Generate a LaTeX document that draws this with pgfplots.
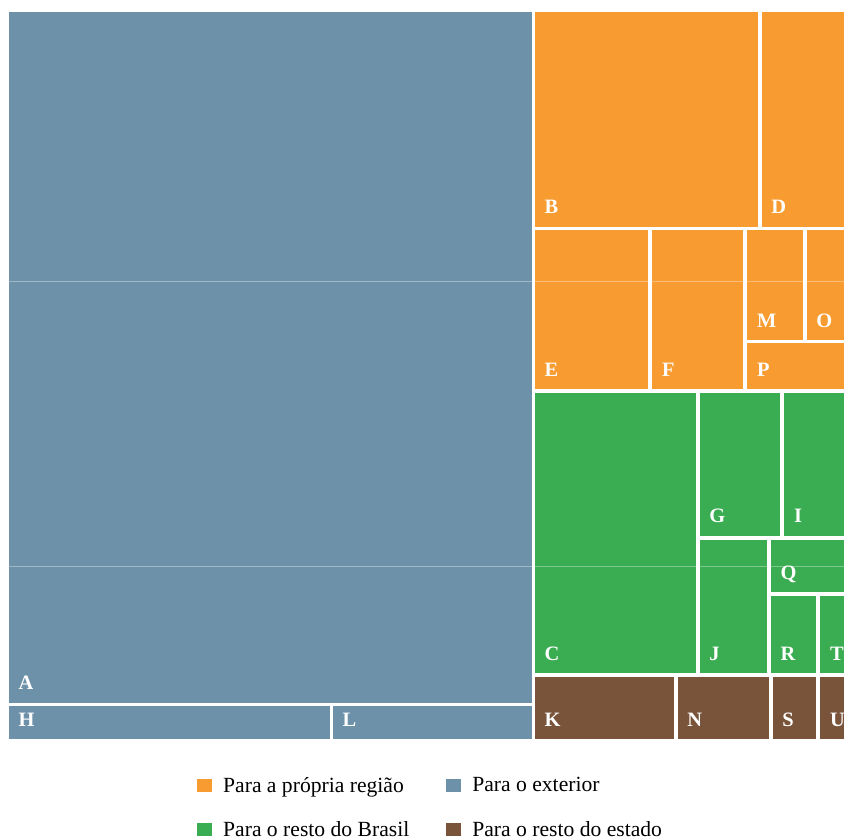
\documentclass[border=0pt]{standalone}
\usepackage{pgfplots}
\pgfplotsset{compat=1.18}
\usepackage{fontspec}
\setmainfont{Liberation Serif}

\definecolor{regiao}{HTML}{F89B30}
\definecolor{exterior}{HTML}{6E91AA}
\definecolor{brasil}{HTML}{3AAD52}
\definecolor{estado}{HTML}{79543B}

\newcommand{\lab}{\fontsize{20.5}{24}\selectfont\bfseries}
% one tile: colour, x0, y0, x1, y1 (pixels, y downwards), label
\newcommand{\tile}[6]{%
  \addplot[fill=#1, draw=none, forget plot] coordinates {(#2,#3) (#4,#3) (#4,#5) (#2,#5)};
  \node[anchor=base west, inner sep=0pt, text=white, font=\lab,
        xshift=9.5bp, yshift=13bp] at (axis cs:#2,#5) {#6};}

\begin{document}
\begin{tikzpicture}
\begin{axis}[
    scale only axis,
    width=844bp, height=839bp,
    xmin=0, xmax=844, ymin=0, ymax=839,
    y dir=reverse,
    hide axis,
    clip mode=individual,
    legend columns=2,
    legend cell align=left,
    legend image code/.code={\fill[#1, draw=none] (0bp,-7bp) rectangle (15bp,6.5bp);},
    legend style={at={(axis cs:197,775)}, anchor=north west, draw=none, fill=none,
      inner sep=0pt, row sep=23.5bp,
      font=\fontsize{21.7}{25}\selectfont,
      /tikz/every odd column/.append style={column sep=9bp},
      /tikz/every even column/.append style={column sep=35bp}},
  ]
  \addlegendimage{fill=regiao}\addlegendentry{Para a própria região}
  \addlegendimage{fill=exterior}\addlegendentry{Para o exterior}
  \addlegendimage{fill=brasil}\addlegendentry{Para o resto do Brasil}
  \addlegendimage{fill=estado}\addlegendentry{Para o resto do estado}

  % para o exterior
  \tile{exterior}{9}{12}{531.5}{702.7}{A}
  \tile{exterior}{9}{706}{329.5}{739.3}{H}
  \tile{exterior}{333}{706}{531.5}{739.3}{L}
  % para a propria regiao
  \tile{regiao}{535}{12}{757.7}{226.7}{B}
  \tile{regiao}{761.7}{12}{850}{226.7}{D}
  \tile{regiao}{535}{230}{648.3}{389.3}{E}
  \tile{regiao}{652.3}{230}{743.3}{389.3}{F}
  \tile{regiao}{747.3}{230}{803.3}{340}{M}
  \tile{regiao}{806.7}{230}{850}{340}{O}
  \tile{regiao}{747.3}{343.3}{850}{389.3}{P}
  % para o resto do Brasil
  \tile{brasil}{535}{393.3}{695.7}{673.3}{C}
  \tile{brasil}{699.7}{393.3}{780.3}{535.7}{G}
  \tile{brasil}{784.3}{393.3}{850}{535.7}{I}
  \tile{brasil}{699.7}{539.7}{767.3}{673.3}{J}
  \tile{brasil}{771}{539.7}{850}{592.3}{Q}
  \tile{brasil}{771}{596.3}{816.3}{673.3}{R}
  \tile{brasil}{820.3}{596.3}{850}{673.3}{T}
  % para o resto do estado
  \tile{estado}{535}{676.7}{674}{739.3}{K}
  \tile{estado}{677.7}{676.7}{768.7}{739.3}{N}
  \tile{estado}{772.7}{676.7}{816.3}{739.3}{S}
  \tile{estado}{820.3}{676.7}{850}{739.3}{U}

  % faint guide lines across the map
  \addplot[white, opacity=0.35, line width=0.6bp, forget plot] coordinates {(9,281.5) (844,281.5)};
  \addplot[white, opacity=0.35, line width=0.6bp, forget plot] coordinates {(9,566.5) (844,566.5)};
\end{axis}
\pgfresetboundingbox
\path (current axis.south west) rectangle (current axis.north east);
\end{tikzpicture}
\end{document}
